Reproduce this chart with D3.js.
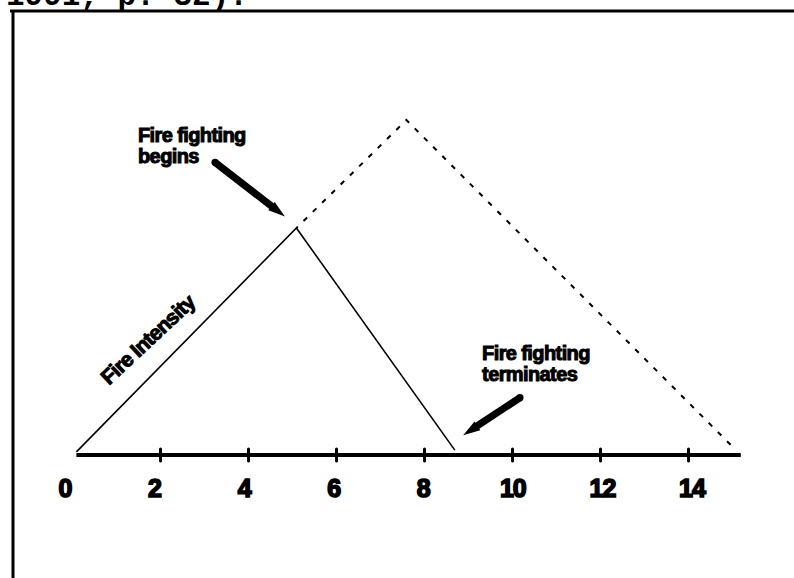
<!DOCTYPE html>
<html>
<head>
<meta charset="utf-8">
<script src="https://cdn.jsdelivr.net/npm/d3@7"></script>
<style>
  html, body { margin: 0; padding: 0; background: #fff; }
  svg { display: block; }
</style>
</head>
<body>
<svg id="chart" width="794" height="578"></svg>
<script>
// ---- data ----
const tickValues = [2, 4, 6, 8, 10, 12, 14];
const tickLabels = ["0", "2", "4", "6", "8", "10", "12", "14"];
const tickLabelValues = [0, 2, 4, 6, 8, 10, 12, 14];
// actual fire intensity (solid)
const actualX = [0.1, 5.1, 8.7];
const actualY = [0.07, 5.15, 0.11];
// hypothetical unchecked fire (dashed)
const potentialX = [5.1, 7.6, 15.0];
const potentialY = [5.15, 7.6, 0.2];
// annotations
const annotationTexts = [["Fire fighting", "begins"], ["Fire fighting", "terminates"]];
const annotationAt = [[1.5, 7.09], [9.32, 2.16]];
const arrowTail = [[3.25, 6.64], [10.18, 1.30]];
const arrowTip = [[4.84, 5.41], [8.89, 0.45]];
const seriesLabel = "Fire Intensity";
const seriesLabelAt = [1.72, 2.62];
const captionText = "1991, p. 32).";

// ---- drawing ----
const svg = d3.select("#chart");
const x = d3.scaleLinear().domain([0, 15.2]).range([72, 740.8]);
const xl = d3.scaleLinear().domain([0, 14]).range([65, 692]);
const y = d3.scaleLinear().domain([0, 7.6]).range([455, 120]);

// caption remnant at top (cut off in the source scan)
svg.append("text")
  .attr("x", 6).attr("y", 5)
  .attr("font-family", "'Liberation Mono', 'DejaVu Sans Mono', monospace")
  .attr("font-weight", "bold")
  .attr("font-size", 31)
  .attr("fill", "#000")
  .text(captionText);

// frame
svg.append("line").attr("x1", 10).attr("x2", 794).attr("y1", 11).attr("y2", 11)
  .attr("stroke", "#000").attr("stroke-width", 3);
svg.append("line").attr("x1", 13).attr("x2", 13).attr("y1", 10).attr("y2", 578)
  .attr("stroke", "#000").attr("stroke-width", 3);

// axis
const axisG = svg.append("g").attr("transform", `translate(0,${y(0)})`);
axisG.call(d3.axisBottom(x).tickValues(tickValues).tickSize(6).tickSizeOuter(0).tickFormat(""));
axisG.select(".domain").remove();
axisG.selectAll(".tick line").attr("y1", -6).attr("y2", 6)
  .attr("stroke", "#000").attr("stroke-width", 3).attr("stroke-linecap", "round");
axisG.append("line").attr("x1", x(0.1)).attr("x2", x(15.2)).attr("y1", 0).attr("y2", 0)
  .attr("stroke", "#000").attr("stroke-width", 4);

svg.append("g").selectAll("text").data(tickLabelValues).join("text")
  .attr("x", d => xl(d)).attr("y", 497)
  .attr("text-anchor", "middle")
  .attr("font-family", "'Liberation Sans', Arial, sans-serif")
  .attr("font-weight", "bold")
  .attr("font-size", 25)
  .attr("letter-spacing", -1)
  .attr("fill", "#000").attr("stroke", "#000").attr("stroke-width", 1.6)
  .text((d, i) => tickLabels[i]);

// lines
const line = d3.line().x(d => x(d[0])).y(d => y(d[1]));
svg.append("path")
  .datum(actualX.map((v, i) => [v, actualY[i]]))
  .attr("d", line).attr("fill", "none").attr("stroke", "#000").attr("stroke-width", 1.6);
svg.append("path")
  .datum(potentialX.map((v, i) => [v, potentialY[i]]))
  .attr("d", line).attr("fill", "none").attr("stroke", "#000").attr("stroke-width", 2)
  .attr("stroke-dasharray", "5,8").attr("stroke-dashoffset", -10);

// series label
svg.append("text")
  .attr("transform", `translate(${x(seriesLabelAt[0])},${y(seriesLabelAt[1])}) rotate(-43)`)
  .attr("text-anchor", "middle").attr("dy", "0.35em")
  .attr("font-family", "'Liberation Sans', Arial, sans-serif")
  .attr("font-weight", "bold").attr("font-size", 21)
  .attr("letter-spacing", -0.8)
  .attr("fill", "#000").attr("stroke", "#000").attr("stroke-width", 1)
  .text(seriesLabel);

// annotations
annotationTexts.forEach((lines, i) => {
  const t = svg.append("text")
    .attr("x", x(annotationAt[i][0])).attr("y", y(annotationAt[i][1]))
    .attr("font-family", "'Liberation Sans', Arial, sans-serif")
    .attr("font-weight", "bold").attr("font-size", 20)
    .attr("letter-spacing", -0.6)
    .attr("fill", "#000").attr("stroke", "#000").attr("stroke-width", 1);
  lines.forEach((s, j) => {
    t.append("tspan").attr("x", x(annotationAt[i][0])).attr("dy", j === 0 ? 0 : 21).text(s);
  });
});

// arrows
arrowTail.forEach((tail, i) => {
  const tip = arrowTip[i];
  const x0 = x(tail[0]), y0 = y(tail[1]), x1 = x(tip[0]), y1 = y(tip[1]);
  const len = Math.hypot(x1 - x0, y1 - y0);
  const ux = (x1 - x0) / len, uy = (y1 - y0) / len;
  const px = -uy, py = ux;
  const w0 = 3.6, wh = 5.2, hl = 17;
  const bx = x1 - ux * hl, by = y1 - uy * hl;
  const pts = [
    [x0 + px * w0, y0 + py * w0],
    [bx + px * w0, by + py * w0],
    [bx + px * wh, by + py * wh],
    [x1, y1],
    [bx - px * wh, by - py * wh],
    [bx - px * w0, by - py * w0],
    [x0 - px * w0, y0 - py * w0]
  ];
  svg.append("path")
    .attr("d", "M" + pts.map(p => p.join(",")).join("L") + "Z")
    .attr("fill", "#000");
  svg.append("circle").attr("cx", x0).attr("cy", y0).attr("r", w0).attr("fill", "#000");
});
</script>
</body>
</html>
